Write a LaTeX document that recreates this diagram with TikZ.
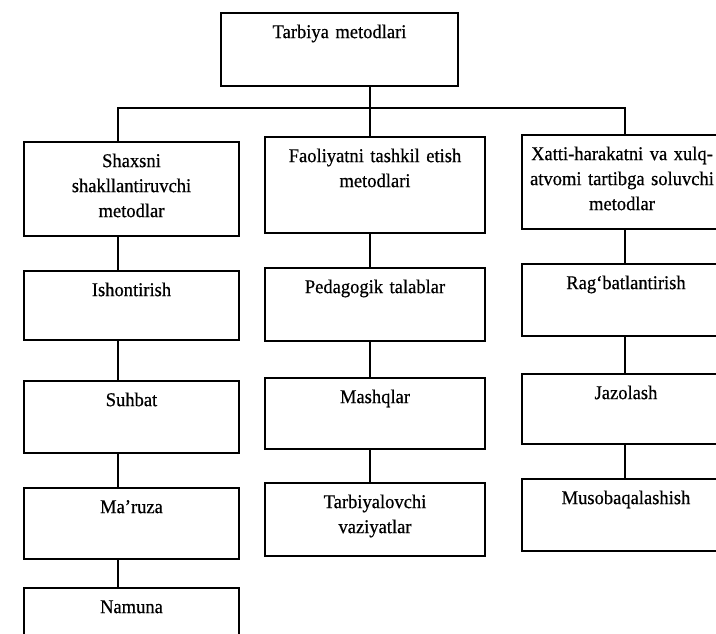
\documentclass[tikz,border=0pt]{standalone}
\usepackage{fontspec}
\setmainfont{Liberation Serif}[FakeBold=0.6, FakeStretch=0.95]
\usetikzlibrary{positioning}

\tikzset{
  metod/.style={draw, line width=2.2pt, inner sep=0pt, align=center, anchor=north, text height=25pt},
  chiziq/.style={line width=2.2pt}
}

\begin{document}
\begin{tikzpicture}[x=1pt, y=-1pt, font=\fontsize{19.5}{25}\selectfont]

\useasboundingbox (0,0) rectangle (716,634);
\clip (0,0) rectangle (716,634);

\node[metod, text width=237pt, text depth=48pt] (tarbiya) at (339.5, 12) {Tarbiya metodlari};

% birinchi qator
\node[metod, text width=215pt, text depth=69pt] (shaxs) at (131.5, 141) {Shaxsni\\ shakllantiruvchi\\ metodlar};
\node[metod, text width=220pt, text depth=71pt] (faol) at (375, 136) {Faoliyatni tashkil etish\\ metodlari};
\node[metod, text width=200pt, text depth=69pt] (xatti) at (622, 134) {Xatti-harakatni va xulq-\\ atvomi tartibga soluvchi\\ metodlar};

% shaxsni shakllantiruvchi
\node[metod, text width=215pt, text depth=44pt] (ishon) at (131.5, 270) {Ishontirish};
\node[metod, text width=215pt, text depth=47pt] (suhbat) at (131.5, 380) {Suhbat};
\node[metod, text width=215pt, text depth=46pt] (maruza) at (131.5, 487) {Ma'ruza};
\node[metod, text width=215pt, text depth=60pt] (namuna) at (131.5, 587) {Namuna};

% faoliyatni tashkil etish
\node[metod, text width=220pt, text depth=48pt] (pedag) at (375, 267) {Pedagogik talablar};
\node[metod, text width=220pt, text depth=46pt] (mashq) at (375, 377) {Mashqlar};
\node[metod, text width=220pt, text depth=48pt] (vaziyat) at (375, 482) {Tarbiyalovchi\\ vaziyatlar};

% xatti-harakatni tartibga soluvchi
\node[metod, text width=208pt, text depth=47pt] (ragbat) at (626, 263) {Rag‘batlantirish};
\node[metod, text width=208pt, text depth=45pt] (jazo) at (626, 373) {Jazolash};
\node[metod, text width=208pt, text depth=47pt] (musob) at (626, 478) {Musobaqalashish};

\coordinate (s1) at (118, 0);
\coordinate (s2) at (370, 0);
\coordinate (s3) at (625, 0);
\coordinate (bus) at (370, 108);

\draw[chiziq] (tarbiya.south -| bus) -- (bus);
\draw[chiziq] (shaxs.north -| s1) |- (bus) -| (xatti.north -| s3);
\draw[chiziq] (bus) -- (faol.north -| s2);

\foreach \a/\b in {shaxs/ishon, ishon/suhbat, suhbat/maruza, maruza/namuna}
  \draw[chiziq] (\a.south -| s1) -- (\b.north -| s1);
\foreach \a/\b in {faol/pedag, pedag/mashq, mashq/vaziyat}
  \draw[chiziq] (\a.south -| s2) -- (\b.north -| s2);
\foreach \a/\b in {xatti/ragbat, ragbat/jazo, jazo/musob}
  \draw[chiziq] (\a.south -| s3) -- (\b.north -| s3);

\end{tikzpicture}
\end{document}
